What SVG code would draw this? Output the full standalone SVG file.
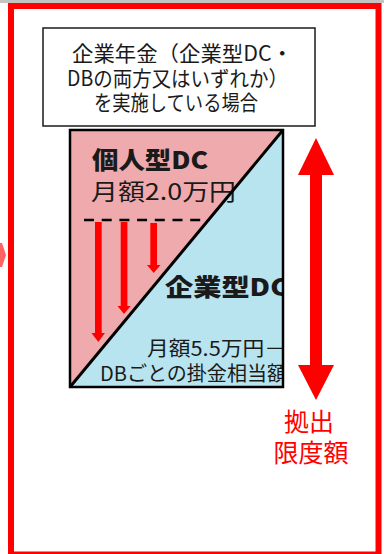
<svg xmlns="http://www.w3.org/2000/svg" width="384" height="554" viewBox="0 0 384 554">
<style>
.t{font-family:"Noto Sans CJK JP","Noto Sans",sans-serif;}
.dark{fill:#1a1a1a;}
.red{fill:#ff0000;}
.b{font-weight:900;}
</style>
<defs>
<clipPath id="sq"><rect x="70" y="130" width="213" height="257"/></clipPath>
</defs>
<rect x="0" y="0" width="384" height="554" fill="#ffffff"/>
<rect x="0" y="0" width="384" height="3" fill="#c4c4c4"/>
<polygon points="0,243 2,243 6,255 2,267 0,267" fill="#ff6262"/>
<rect id="frame" x="11" y="6" width="367.5" height="548.5" fill="none" stroke="#ff0000" stroke-width="6"/>

<g id="title">
<rect x="43" y="28" width="272" height="98" fill="#ffffff" stroke="#1a1a1a" stroke-width="1.5"/>
<text class="t dark" font-size="21" x="72" y="61" textLength="221" lengthAdjust="spacingAndGlyphs">企業年金（企業型DC・</text>
<text class="t dark" font-size="21" x="67" y="86" textLength="221" lengthAdjust="spacingAndGlyphs">DBの両方又はいずれか）</text>
<text class="t dark" font-size="21" x="94" y="110" textLength="164" lengthAdjust="spacingAndGlyphs">を実施している場合</text>
</g>

<g id="square">
<rect x="70" y="130" width="213" height="257" fill="#efaaae"/>
<polygon points="283,130 283,387 70,387" fill="#b8e4f0"/>
<g clip-path="url(#sq)">
<text class="t dark b" font-size="24" x="92" y="169" textLength="116" lengthAdjust="spacingAndGlyphs">個人型DC</text>
<text class="t dark" font-size="23" x="91" y="200" textLength="145" lengthAdjust="spacingAndGlyphs">月額2.0万円</text>
<text class="t dark b" font-size="24" x="165" y="296" textLength="124" lengthAdjust="spacingAndGlyphs">企業型DC</text>
<text class="t dark" font-size="20" x="147" y="356" textLength="139" lengthAdjust="spacingAndGlyphs">月額5.5万円－</text>
<text class="t dark" font-size="20" x="100" y="381" textLength="187" lengthAdjust="spacingAndGlyphs">DBごとの掛金相当額</text>
</g>
<line x1="70" y1="387" x2="283" y2="130" stroke="#000000" stroke-width="3"/>
<rect x="70" y="130" width="213" height="257" fill="none" stroke="#000000" stroke-width="2.5"/>
</g>

<g id="connectors">
<line x1="84" y1="220" x2="202" y2="220" stroke="#000000" stroke-width="2.5" stroke-dasharray="10 7.7"/>
<rect x="95" y="222" width="6.7" height="112" fill="#ff0000"/>
<polygon points="91.5,333 105,333 98.3,342" fill="#ff0000"/>
<rect x="120.7" y="222" width="6.7" height="85" fill="#ff0000"/>
<polygon points="117.5,306 130.7,306 124,314" fill="#ff0000"/>
<rect x="150.3" y="223" width="6.7" height="43" fill="#ff0000"/>
<polygon points="147,265 160.5,265 153.7,273" fill="#ff0000"/>
<polygon points="316,138 334,175 322,175 322,365 334,365 316,400 298,365 310,365 310,175 298,175" fill="#ff0000"/>
</g>

<g id="limit">
<text class="t red" font-size="25" x="309" y="431" text-anchor="middle">拠出</text>
<text class="t red" font-size="25" x="311" y="462" text-anchor="middle">限度額</text>
</g>
</svg>
